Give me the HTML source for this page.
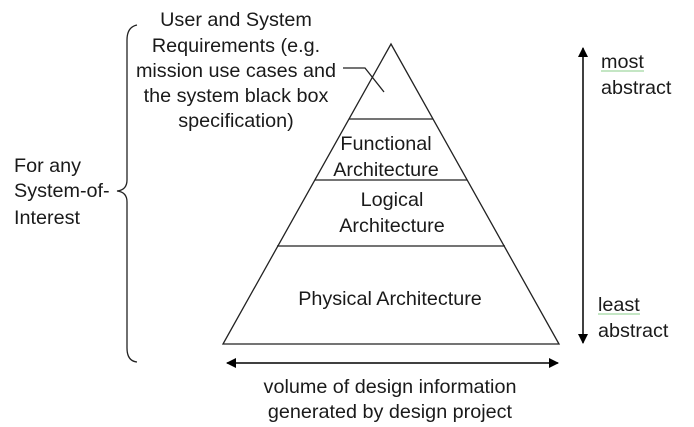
<!DOCTYPE html>
<html><head><style>
html,body{margin:0;padding:0;background:#fff;}
svg{display:block;}
text{font-family:"Liberation Sans",Arial,sans-serif;font-size:19.8px;fill:#1a1a1a;}
</style></head><body>
<svg width="694" height="427" viewBox="0 0 694 427" xmlns="http://www.w3.org/2000/svg">
<defs>
<marker id="ah" markerWidth="10" markerHeight="10" refX="9" refY="5" orient="auto" markerUnits="userSpaceOnUse">
<path d="M0,0 L10,5 L0,10 z" fill="#000"/></marker>
</defs>
<g stroke="#222" stroke-width="1.3" fill="none">
<polygon points="391,44 223,344 559,344"/>
<line x1="349" y1="119" x2="433" y2="119"/>
<line x1="315" y1="180" x2="467" y2="180"/>
<line x1="277" y1="246" x2="505" y2="246"/>
<polyline points="343,68 365,68 384,92"/>
<path d="M137,25 Q127,27 127,40 L127,180 Q127,190 117,191 Q127,192 127,202 L127,348 Q127,361 137,362"/>
</g>
<g stroke="#000" stroke-width="1.5">
<line x1="583" y1="58" x2="583" y2="48" marker-end="url(#ah)"/>
<line x1="583" y1="58" x2="583" y2="343" marker-end="url(#ah)"/>
<line x1="240" y1="363" x2="227" y2="363" marker-end="url(#ah)"/>
<line x1="240" y1="363" x2="558" y2="363" marker-end="url(#ah)"/>
</g>
<g text-anchor="middle">
<text x="236" y="26">User and System</text>
<text x="236" y="52">Requirements (e.g.</text>
<text x="236" y="77">mission use cases and</text>
<text x="236" y="102">the system black box</text>
<text x="236" y="127">specification)</text>
<text x="386" y="150">Functional</text>
<text x="386" y="176">Architecture</text>
<text x="392" y="206">Logical</text>
<text x="392" y="232">Architecture</text>
<text x="390" y="305">Physical Architecture</text>
<text x="390" y="393">volume of design information</text>
<text x="390" y="418">generated by design project</text>
</g>
<text x="14" y="172">For any</text>
<text x="14" y="197">System-of-</text>
<text x="14" y="224">Interest</text>
<text x="601" y="68">most</text>
<text x="601" y="94">abstract</text>
<text x="598" y="311">least</text>
<text x="598" y="337">abstract</text>
<line x1="601" y1="71" x2="644" y2="71" stroke="#8c8" stroke-width="1"/>
<line x1="598" y1="314" x2="640" y2="314" stroke="#8c8" stroke-width="1"/>
</svg>
</body></html>
